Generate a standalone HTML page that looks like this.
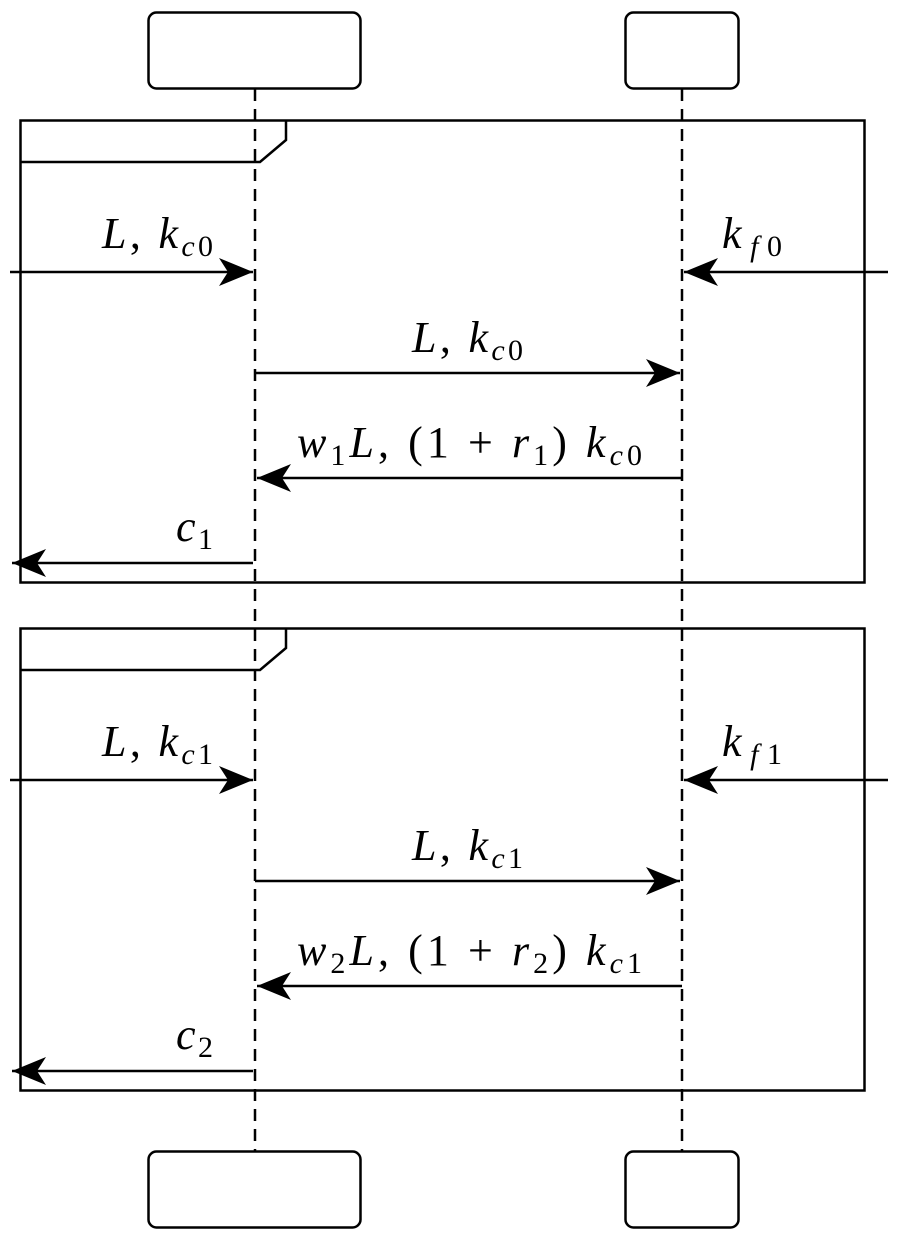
<!DOCTYPE html>
<html><head><style>body{margin:0;background:#fff}</style></head>
<body>
<svg width="900" height="1239" xmlns="http://www.w3.org/2000/svg">
<defs>
<marker id="a" markerWidth="36" markerHeight="30" refX="34" refY="15" orient="auto" markerUnits="userSpaceOnUse">
<path d="M0,1 L34,15 L0,29 L9,15 Z" fill="#000"/>
</marker>
</defs>
<g fill="none" stroke="#000" stroke-width="2.5">
<rect x="148.5" y="12.5" width="212" height="76" rx="8"/>
<rect x="625.5" y="12.5" width="113" height="76" rx="8"/>
<rect x="148.5" y="1151.5" width="212" height="76" rx="8"/>
<rect x="625.5" y="1151.5" width="113" height="76" rx="8"/>
<line x1="255" y1="89" x2="255" y2="1151" stroke-dasharray="12,8"/>
<line x1="682" y1="89" x2="682" y2="1151" stroke-dasharray="12,8"/>
<rect x="20.5" y="120.5" width="844" height="462"/>
<path d="M20.5,162 L260,162 L286,140 L286,120.5"/>
<rect x="20.5" y="628.5" width="844" height="462"/>
<path d="M20.5,670 L260,670 L286,648 L286,628.5"/>
</g>
<g stroke="#000" stroke-width="2.5" marker-end="url(#a)">
<line x1="10" y1="272" x2="253" y2="272"/>
<line x1="888" y1="272" x2="684" y2="272"/>
<line x1="255" y1="373" x2="680" y2="373"/>
<line x1="682" y1="478" x2="257" y2="478"/>
<line x1="253" y1="563" x2="12" y2="563"/>
<line x1="10" y1="780" x2="253" y2="780"/>
<line x1="888" y1="780" x2="684" y2="780"/>
<line x1="255" y1="881" x2="680" y2="881"/>
<line x1="682" y1="986" x2="257" y2="986"/>
<line x1="253" y1="1071" x2="12" y2="1071"/>
</g>
<g font-family="'Liberation Serif', 'DejaVu Serif', serif" font-size="44" font-style="italic">
<text x="102" y="248" textLength="111">L<tspan font-style="normal">, </tspan>k<tspan font-size="30" dy="8">c</tspan><tspan font-size="30" font-style="normal">0</tspan></text>
<text x="722" y="248" textLength="60">k<tspan font-size="30" dy="8">f</tspan><tspan font-size="30" font-style="normal">0</tspan></text>
<text x="412" y="352" textLength="111">L<tspan font-style="normal">, </tspan>k<tspan font-size="30" dy="8">c</tspan><tspan font-size="30" font-style="normal">0</tspan></text>
<text x="297" y="457" textLength="345">w<tspan font-size="30" dy="8" font-style="normal">1</tspan><tspan dy="-8">L</tspan><tspan font-style="normal">, (1 + </tspan>r<tspan font-size="30" dy="8" font-style="normal">1</tspan><tspan dy="-8" font-style="normal">) </tspan>k<tspan font-size="30" dy="8">c</tspan><tspan font-size="30" font-style="normal">0</tspan></text>
<text x="176" y="541" textLength="37">c<tspan font-size="30" dy="8" font-style="normal">1</tspan></text>
<text x="102" y="756" textLength="111">L<tspan font-style="normal">, </tspan>k<tspan font-size="30" dy="8">c</tspan><tspan font-size="30" font-style="normal">1</tspan></text>
<text x="722" y="756" textLength="60">k<tspan font-size="30" dy="8">f</tspan><tspan font-size="30" font-style="normal">1</tspan></text>
<text x="412" y="860" textLength="111">L<tspan font-style="normal">, </tspan>k<tspan font-size="30" dy="8">c</tspan><tspan font-size="30" font-style="normal">1</tspan></text>
<text x="297" y="965" textLength="345">w<tspan font-size="30" dy="8" font-style="normal">2</tspan><tspan dy="-8">L</tspan><tspan font-style="normal">, (1 + </tspan>r<tspan font-size="30" dy="8" font-style="normal">2</tspan><tspan dy="-8" font-style="normal">) </tspan>k<tspan font-size="30" dy="8">c</tspan><tspan font-size="30" font-style="normal">1</tspan></text>
<text x="176" y="1049" textLength="37">c<tspan font-size="30" dy="8" font-style="normal">2</tspan></text>
</g>
</svg>
</body></html>
